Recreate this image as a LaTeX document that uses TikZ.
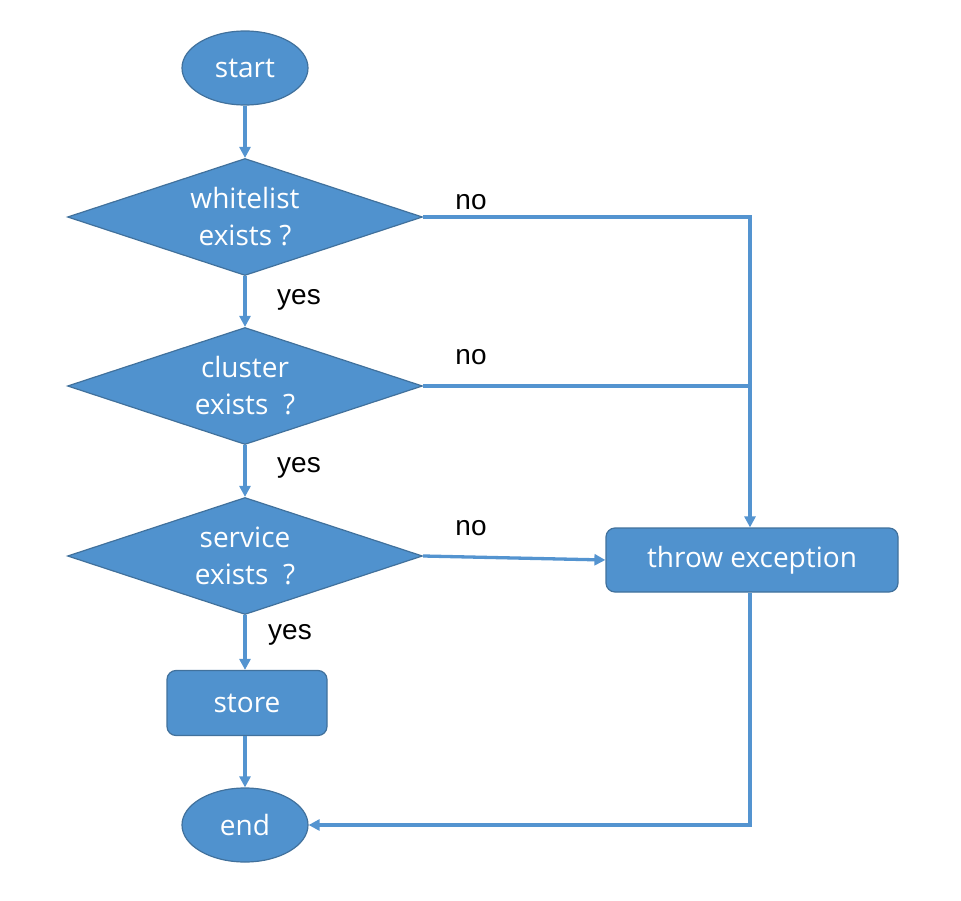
\documentclass[tikz,border=0pt]{standalone}
\usepackage{fontspec}
\setmainfont{Liberation Sans}
\newfontfamily\nodefont{Open Sans}
\usetikzlibrary{shapes.geometric,arrows.meta}
\definecolor{boxfill}{RGB}{80,146,206}
\definecolor{boxline}{RGB}{65,113,156}
\definecolor{linec}{RGB}{84,148,208}
\begin{document}
\begin{tikzpicture}[x=1pt,y=-1pt,
  base/.style={fill=boxfill,draw=boxline,line width=1.2pt,text=white,font=\nodefont\fontsize{28}{37}\selectfont,align=center,inner sep=0pt},
  term/.style={base,ellipse,minimum width=126pt,minimum height=74pt},
  decide/.style={base,diamond,aspect=3.03,minimum width=355pt,minimum height=117pt},
  proc/.style={base,rectangle,rounded corners=9pt},
  conn/.style={draw=linec,line width=3.3pt},
  arr/.style={conn,-{Triangle[length=11pt,width=11pt]}},
  lbl/.style={font=\fontsize{28}{30}\selectfont,text=black,inner sep=0pt}]
\useasboundingbox (0,0) rectangle (961,901);
\node[term] (start) at (245,68) {start};
\node[decide] (w) at (245,217) {whitelist\\exists ?};
\node[decide] (c) at (245,386) {cluster\\exists\ \ ?};
\node[decide] (s) at (245,556) {service\\exists\ \ ?};
\node[proc,minimum width=160pt,minimum height=65pt] (store) at (247,703) {store};
\node[term] (end) at (245,825) {end};
\node[proc,minimum width=292pt,minimum height=64pt] (te) at (752,560) {throw exception};
\coordinate (j1) at (750,217);
\coordinate (j2) at (750,386);
\draw[arr] (start) -- (w);
\draw[arr] (w) -- (c);
\draw[arr] (c) -- (s);
\draw[arr] (s.south) -- (s.south |- store.north);
\draw[arr] (end.north |- store.south) -- (end.north);
\draw[arr] (w.east) -- (j1) -- (j1 |- te.north);
\draw[conn] (c.east) -- (j2);
\draw[arr] (s.east) -- (te.west);
\draw[arr] (te.south -| j1) |- (end.east);
\node[lbl] (n1) at (471,202) {no};
\node[lbl] (n2) at (471,357) {no};
\node[lbl] (n3) at (471,528) {no};
\node[lbl] (y1) at (299,300) {yes};
\node[lbl] (y2) at (299,468) {yes};
\node[lbl] (y3) at (290,635) {yes};
\end{tikzpicture}
\end{document}
